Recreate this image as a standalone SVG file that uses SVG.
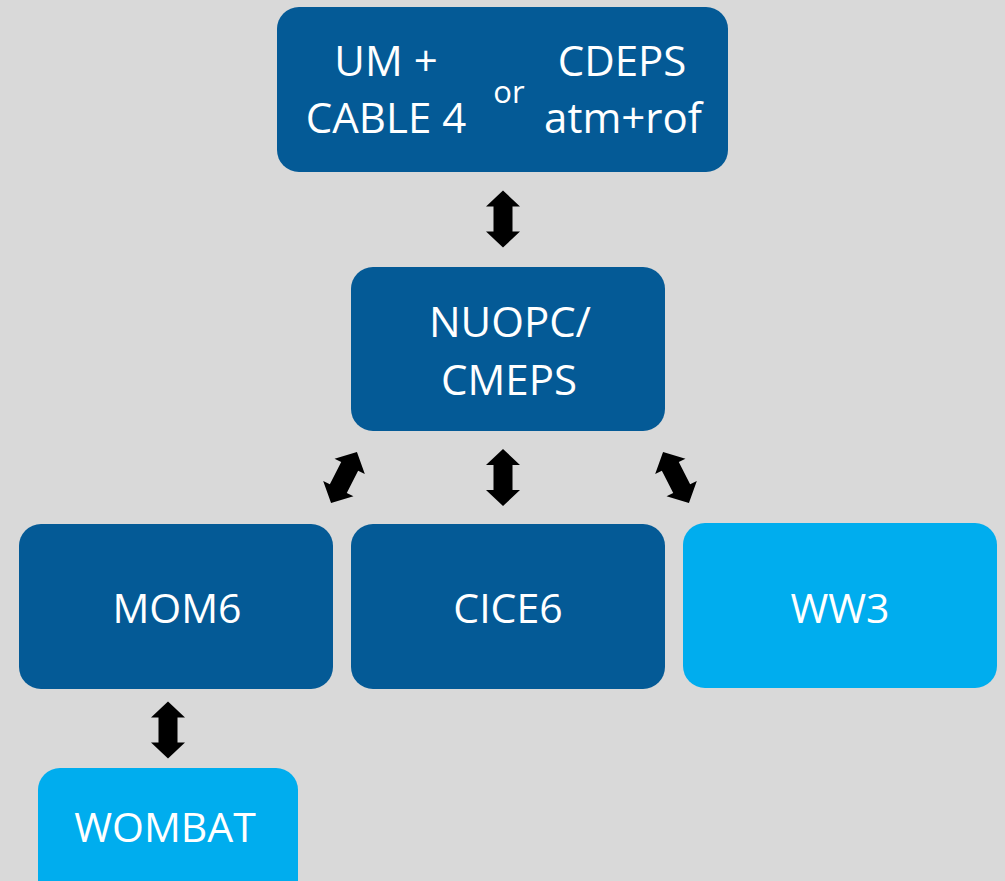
<svg xmlns="http://www.w3.org/2000/svg" width="1005" height="881" viewBox="0 0 1005 881">
<style>
.dark{fill:#045a96}
.light{fill:#00adee}
.t{font-family:"Open Sans","Noto Sans","Liberation Sans",sans-serif;font-size:41px;fill:#ffffff;text-anchor:middle}
.big{font-size:42px}
.or{font-size:31px}
.arr{fill:#000000}
</style>
<defs>
<path id="dbl" d="M0,-28.5 L17,-12.5 L9.5,-12.5 L9.5,12.5 L17,12.5 L0,28.5 L-17,12.5 L-9.5,12.5 L-9.5,-12.5 L-17,-12.5 Z"/>
</defs>
<rect width="1005" height="881" fill="#d9d9d9"/>
<g id="connectors" class="arr">
<use href="#dbl" transform="translate(503,219)"/>
<use href="#dbl" transform="translate(344,477.5) rotate(27)"/>
<use href="#dbl" transform="translate(503,477.5)"/>
<use href="#dbl" transform="translate(676,477.5) rotate(-27)"/>
<use href="#dbl" transform="translate(168,730)"/>
</g>
<g id="atm">
<rect class="dark" x="277" y="7" width="451" height="165" rx="22"/>
<text class="t big" x="386" y="76">UM +</text>
<text class="t big" x="386" y="133">CABLE 4</text>
<text class="t or" x="509" y="103">or</text>
<text class="t big" x="622" y="76">CDEPS</text>
<text class="t big" x="623" y="133">atm+rof</text>
</g>
<g id="nuopc">
<rect class="dark" x="351" y="267" width="314" height="164" rx="22"/>
<text class="t big" x="510" y="337">NUOPC/</text>
<text class="t big" x="509" y="395">CMEPS</text>
</g>
<g id="mom6">
<rect class="dark" x="19" y="524" width="314" height="165" rx="22"/>
<text class="t" x="177" y="623">MOM6</text>
</g>
<g id="cice6">
<rect class="dark" x="351" y="524" width="314" height="165" rx="22"/>
<text class="t" x="508" y="623">CICE6</text>
</g>
<g id="ww3">
<rect class="light" x="683" y="523" width="314" height="165" rx="22"/>
<text class="t" x="840" y="623">WW3</text>
</g>
<g id="wombat">
<rect class="light" x="38" y="768" width="260" height="140" rx="22"/>
<text class="t" x="165" y="842">WOMBAT</text>
</g>
</svg>
